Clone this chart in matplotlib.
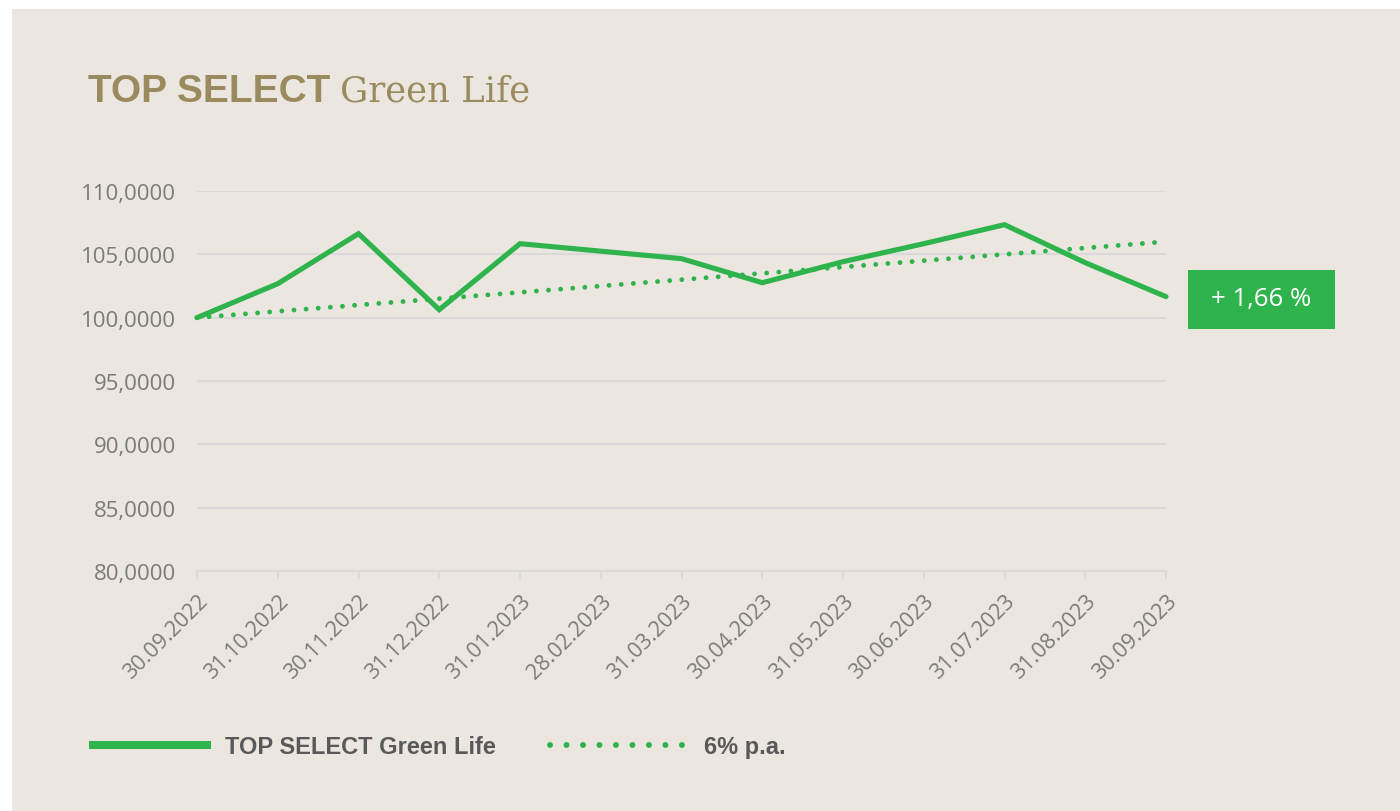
import matplotlib
matplotlib.use("Agg")
import matplotlib.pyplot as plt
from matplotlib.lines import Line2D
from matplotlib.patches import Rectangle

dates = ["30.09.2022", "31.10.2022", "30.11.2022", "31.12.2022", "31.01.2023",
         "28.02.2023", "31.03.2023", "30.04.2023", "31.05.2023", "30.06.2023",
         "31.07.2023", "31.08.2023", "30.09.2023"]
fund = [100.0, 102.68, 106.63, 100.63, 105.84, 105.25, 104.66, 102.76,
        104.42, 105.84, 107.34, 104.34, 101.66]
benchmark = [100.0, 100.5, 101.0, 101.5, 102.0, 102.5, 103.0, 103.5,
             104.0, 104.5, 105.0, 105.5, 106.0]
yticks = [80, 85, 90, 95, 100, 105, 110]
fund_name = "TOP SELECT Green Life"
bench_name = "6% p.a."
perf_label = "+ 1,66 %"

GREEN = "#2fb34c"
BG = "#ebe7e0"
GRID = "#dadada"
TXT = "#7b7b7b"
GOLD = "#9a8b5e"

W, H = 1400, 812
fig = plt.figure(figsize=(14, 8.12), dpi=100, facecolor="white")
fig.patches.append(Rectangle((12 / W, 0), 1 - 12 / W, 1 - 10 / H,
                             transform=fig.transFigure, facecolor=BG,
                             edgecolor="none", zorder=-10))

ax = fig.add_axes([197 / W, 1 - 572 / H, (1166 - 197) / W, (572 - 192) / H])
ax.set_facecolor("none")
x = list(range(len(dates)))

ax.plot(x, benchmark, color=GREEN, lw=3.5, linestyle=(0, (0.001, 2.5)),
        dash_capstyle="round", solid_capstyle="round", clip_on=False, zorder=3)
ax.plot(x, fund, color=GREEN, lw=3.7, solid_capstyle="round",
        solid_joinstyle="miter", clip_on=False, zorder=4)

ax.set_ylim(80, 110)
ax.set_xlim(0, len(dates) - 1)
ax.set_yticks(yticks)
ax.set_yticklabels([f"{v},0000" for v in yticks], family="Open Sans",
                   fontsize=16, color=TXT)
ax.set_xticks(x)
ax.set_xticklabels(dates, rotation=45, ha="right", va="top",
                   rotation_mode="anchor", family="Open Sans",
                   fontsize=15.5, color=TXT)
ax.tick_params(axis="y", length=0, pad=15)
ax.tick_params(axis="x", length=6, width=1.5, color=GRID, pad=8)
for s in ["top", "right", "left"]:
    ax.spines[s].set_visible(False)
ax.spines["bottom"].set_color(GRID)
ax.spines["bottom"].set_linewidth(1.5)
ax.grid(axis="y", color=GRID, lw=1.5)
ax.set_axisbelow(True)

# Title
t1 = fig.text(88 / W, 1 - 102 / H, "TOP SELECT", family="Liberation Sans",
              fontweight="bold", fontsize=28, color=GOLD, va="baseline")
fig.canvas.draw()
bb = t1.get_window_extent()
fig.text((bb.x1 + 10) / W, 1 - 102 / H, "Green Life", family="DejaVu Serif",
         fontsize=25.5, color=GOLD, va="baseline")

# Performance box
fig.patches.append(Rectangle((1188 / W, 1 - 330 / H), 147 / W, 59 / H,
                             transform=fig.transFigure, facecolor=GREEN,
                             edgecolor="none", zorder=5))
fig.text(1261 / W, 1 - 300 / H, perf_label, family="Open Sans", fontsize=18.5,
         color="white", ha="center", va="center", zorder=6)

# Legend (two entries, each with its own handle length)
prop = {"family": "Liberation Sans", "weight": "bold", "size": 17}
h1 = Line2D([], [], color=GREEN, lw=5.8, solid_capstyle="butt")
h2 = Line2D([], [], color=GREEN, lw=4.3, linestyle=(0, (0.001, 2.76)),
            dash_capstyle="round")
leg1 = fig.legend([h1], [fund_name], loc="center left",
                  bbox_to_anchor=(68 / W, 1 - 748 / H), frameon=False,
                  handlelength=5.15, handletextpad=0.6, prop=prop)
leg2 = fig.legend([h2], [bench_name], loc="center left",
                  bbox_to_anchor=(529 / W, 1 - 748 / H), frameon=False,
                  handlelength=5.75, handletextpad=0.75, prop=prop)
for lg in (leg1, leg2):
    for t in lg.get_texts():
        t.set_color("#595959")

fig.savefig("out.png", dpi=100, facecolor="white")
